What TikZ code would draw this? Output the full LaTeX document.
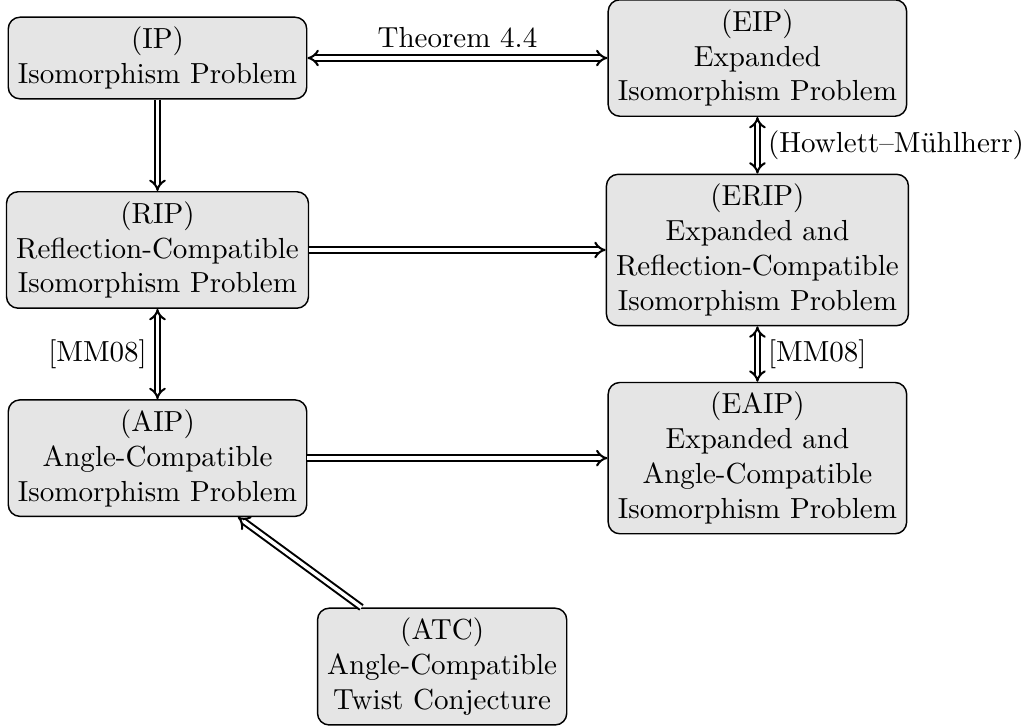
\documentclass[tikz,border=0pt]{standalone}
\usepackage{fontspec}
\usetikzlibrary{arrows.meta}
\begin{document}
\begin{tikzpicture}[x=1pt,y=1pt,
  box/.style={draw, line width=0.5pt, rounded corners=4pt, fill=gray!20, align=center},
  imp/.style={double, double distance=1.2pt, line width=0.7pt, -{Implies}},
  biimp/.style={double, double distance=1.2pt, line width=0.7pt, {Implies}-{Implies}}]
\useasboundingbox (0,0) rectangle (354.1,-250.1);
\node[box] (IP) at (54.25,-19.98) {(IP)\\Isomorphism Problem};
\node[box] (EIP) at (260.9,-19.98) {(EIP)\\Expanded\\Isomorphism Problem};
\node[box] (RIP) at (54.25,-86.1) {(RIP)\\Reflection-Compatible\\Isomorphism Problem};
\node[box] (ERIP) at (260.9,-86.1) {(ERIP)\\Expanded and\\Reflection-Compatible\\Isomorphism Problem};
\node[box] (AIP) at (54.25,-157.8) {(AIP)\\Angle-Compatible\\Isomorphism Problem};
\node[box] (EAIP) at (260.9,-157.8) {(EAIP)\\Expanded and\\Angle-Compatible\\Isomorphism Problem};
\node[box] (ATC) at (152.3,-229.6) {(ATC)\\Angle-Compatible\\Twist Conjecture};
\draw[biimp] (IP) -- node[above] (t44) {Theorem 4.4} (EIP);
\draw[imp] (IP) -- (RIP);
\draw[biimp] (EIP) -- node[right] (hm) {(Howlett--Mühlherr)} (ERIP);
\draw[imp] (RIP) -- (ERIP);
\draw[biimp] (RIP) -- node[left] (mm1) {[MM08]} (AIP);
\draw[biimp] (ERIP) -- node[right] (mm2) {[MM08]} (EAIP);
\draw[imp] (AIP) -- (EAIP);
\draw[imp] (ATC) -- (AIP);
\end{tikzpicture}
\end{document}
